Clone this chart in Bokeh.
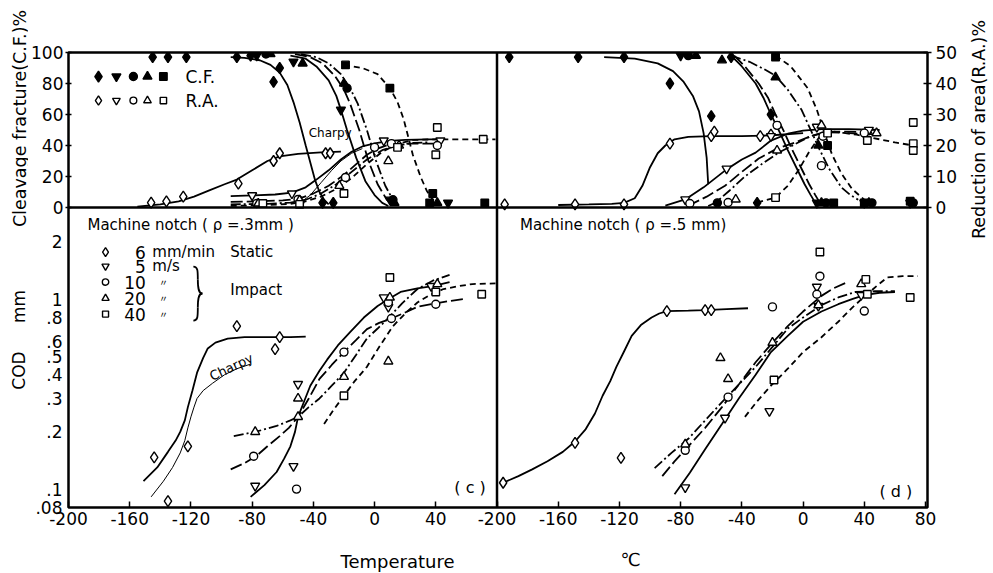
import math
from bokeh.plotting import figure
from bokeh.layouts import row, column
from bokeh.models import (Range1d, LinearAxis, LogAxis, FixedTicker, Label, Span,
                          CustomJSTickFormatter, LogScale, LinearScale)
from bokeh.embed import file_html
from bokeh.resources import INLINE

FONT = "DejaVu Sans"
TICK_FS = "17px"

# ------------------------------------------------------------------ DATA
# Temperature (deg C) / value pairs.
# ---- top-left (machine notch rho=.3mm): cleavage fracture C.F. %  (filled)
tl_cf_static_t = [-145, -135, -123, -90, -81, -62, -66, -34, -27]
tl_cf_static_v = [97, 97, 97, 97, 98, 90, 81, 3, 3]
tl_cf_5_t = [-77, -53, -22, 10, 48]
tl_cf_5_v = [98, 94, 63, 5, 3]
tl_cf_10_t = [-71, -18, 12]
tl_cf_10_v = [99, 77, 5]
tl_cf_20_t = [-68, -47, -20, 13, 41]
tl_cf_20_v = [99, 93, 80, 3, 3]
tl_cf_40_t = [-19, 10, 38, 72, 36]
tl_cf_40_v = [92, 77, 9, 3, 3]
# reduction of area R.A. % (open)
tl_ra_static_t = [-146, -136, -125, -89, -66, -62, -32, -29]
tl_ra_static_v = [1.6, 2, 3.5, 7.7, 15, 17.5, 17.5, 17.5]
tl_ra_5_t = [-80, -54, 6, 43]
tl_ra_5_v = [3.9, 4.5, 21.6, 21.6]
tl_ra_10_t = [-77, -50, -19, 0, 11, 41]
tl_ra_10_v = [1.3, 2.6, 9.7, 19.4, 20.6, 20]
tl_ra_20_t = [-76, -49, -23, 9, 16]
tl_ra_20_v = [1.3, 2.3, 7, 15, 20]
tl_ra_40_t = [-73, -49, -20, 15, 41, 40, 71]
tl_ra_40_v = [1.3, 1, 4.5, 19.4, 25.8, 17, 22]
# fitted curves
tlc_cf_static_t = [-94, -85, -75, -68, -62, -57, -53, -49, -45, -42, -39, -36, -33, -30]
tlc_cf_static_v = [97, 96.5, 95, 92, 87, 79, 68, 55, 40, 29, 18, 10, 5, 2]
tlc_cf_5_t = [-55, -45, -38, -30, -25, -22, -18, -12, -6, 0, 5, 9]
tlc_cf_5_v = [98, 96, 91, 82, 72, 63, 50, 32, 17, 8, 3, 1]
tlc_cf_10_t = [-52, -42, -34, -26, -20, -16, -10, -4, 2, 8, 12]
tlc_cf_10_v = [99, 97, 93, 85, 76, 67, 50, 30, 15, 5, 2]
tlc_cf_20_t = [-48, -38, -30, -22, -16, -11, -5, 1, 7, 12, 15]
tlc_cf_20_v = [99, 97, 93, 86, 77, 67, 50, 30, 14, 5, 2]
tlc_cf_40_t = [-20, -8, 2, 10, 15, 19, 25, 30, 34, 38]
tlc_cf_40_v = [92, 90, 86, 77, 68, 57, 34, 20, 11, 5]
tlc_ra_static_t = [-155, -140, -128, -118, -108, -98, -90, -80, -70, -62, -50, -35, -22]
tlc_ra_static_v = [0.3, 1, 2, 3.5, 5.5, 7.5, 9, 12, 15, 16.5, 17.3, 17.8, 18]
tlc_ra_charpy_t = [-50, -42, -35, -28, -22, -15, -8]
tlc_ra_charpy_v = [1, 4, 8, 12, 15, 17.5, 19]
tlc_ra_5_t = [-94, -80, -65, -54, -45, -38, -30, -22, -15, -8, 0, 10, 20, 35, 45]
tlc_ra_5_v = [3.7, 3.9, 4.2, 4.8, 6.5, 9, 12, 15.5, 18, 19.7, 20.7, 21.5, 21.8, 22, 22]
tlc_ra_10_t = [-94, -75, -60, -50, -40, -30, -20, -12, -5, 2, 10, 20, 40]
tlc_ra_10_v = [1.8, 2, 2.3, 2.8, 4.5, 7, 10.5, 14, 17, 19, 20.4, 20.6, 20.6]
tlc_ra_20_t = [-94, -70, -55, -45, -35, -25, -15, -5, 5, 15, 25, 35]
tlc_ra_20_v = [1, 1.2, 1.6, 2.5, 4.5, 7.5, 11.5, 15.5, 18.5, 20, 20.8, 21]
tlc_ra_40_t = [-94, -70, -55, -45, -35, -25, -15, -5, 5, 15, 25, 40, 60, 79]
tlc_ra_40_v = [0.5, 0.8, 1.2, 2, 3.5, 6, 9.5, 14, 18, 20.5, 21.8, 22, 22, 22]

# ---- top-right (machine notch rho=.5mm)
tr_cf_static_t = [-192, -147, -117, -87, -60, -47, -21, -30]
tr_cf_static_v = [97, 97, 97, 80, 59, 97, 60, 3]
tr_cf_5_t = [-80, 9, 40, 70]
tr_cf_5_v = [98, 3, 3, 3]
tr_cf_10_t = [-75, -56, 15, 45, 72]
tr_cf_10_v = [98, 3, 3, 3, 3]
tr_cf_20_t = [-70, -53, -18, 10, 12, 43]
tr_cf_20_v = [98, 95, 84, 40, 3, 3]
tr_cf_40_t = [-18, 16, 20, 40, 70]
tr_cf_40_v = [97, 40, 3, 3, 4]
tr_ra_static_t = [-195, -149, -117, -87, -60, -58, -28, -21]
tr_ra_static_v = [1, 1, 1, 20.6, 23, 24.5, 23, 23.5]
tr_ra_5_t = [-77, -50, -21, 9, 43]
tr_ra_5_v = [2.6, 12.5, 23, 26, 25]
tr_ra_10_t = [-74, -49, -17, 12, 13, 40]
tr_ra_10_v = [1.3, 1.6, 26.5, 13.5, 23, 24]
tr_ra_20_t = [-44, -17, 12, 48]
tr_ra_20_v = [2.6, 18.4, 26.5, 24]
tr_ra_40_t = [-18, 16, 42, 72, 72, 72]
tr_ra_40_v = [3.2, 24, 21.6, 27.4, 20.6, 18.4]
trc_cf_static_t = [-130, -110, -95, -85, -78, -72, -68, -65, -63, -62]
trc_cf_static_v = [97, 96, 93, 88, 81, 72, 62, 48, 32, 15]
trc_cf_5_t = [-47, -40, -31, -26, -21, -15, -10, -4, 1, 5, 8]
trc_cf_5_v = [98, 91, 80, 71, 60, 48, 37, 25, 15, 8, 3]
trc_cf_10_t = [-45, -38, -29, -23, -18, -12, -7, -1, 4, 8, 11]
trc_cf_10_v = [98, 91, 80, 71, 60, 48, 37, 25, 15, 8, 3]
trc_cf_20_t = [-47, -35, -25, -18, -10, -1, 5, 10, 17, 25, 31, 36]
trc_cf_20_v = [98, 94, 89, 85, 76, 63, 50, 39, 25, 13, 8, 5]
trc_cf_40_t = [-18, -8, 3, 9, 14, 19, 25, 32, 40]
trc_cf_40_v = [98, 91, 77, 63, 48, 34, 22, 12, 5]
trc_ra_static_t = [-160, -140, -125, -117, -110, -105, -100, -95, -90, -84, -75, -60, -40, -20, 0]
trc_ra_static_v = [0.8, 1, 1.2, 1.5, 3, 7, 13, 17.5, 20, 22, 22.8, 23, 23, 23.3, 24]
trc_ra_5_t = [-90, -77, -65, -50, -40, -31, -21, -10, 0, 12, 30, 50]
trc_ra_5_v = [0.6, 2.6, 6.5, 12.3, 15.5, 17.7, 21.6, 23.8, 24.8, 25.3, 25.3, 25]
trc_ra_10_t = [-75, -63, -51, -40, -29, -17, -5, 5, 15, 30, 50]
trc_ra_10_v = [0.6, 3.5, 7, 11.5, 15.8, 19, 21, 23, 24.5, 24.5, 24]
trc_ra_20_t = [-62, -57, -48, -38, -27, -16, -5, 5, 15, 30, 50]
trc_ra_20_v = [0.5, 1.6, 5.5, 10, 14, 17.7, 20.5, 23, 24.3, 24, 23.5]
trc_ra_40_t = [-30, -18, -10, -3, 4, 11, 20, 35, 50, 60, 72]
trc_ra_40_v = [1.6, 3.2, 7, 12, 18, 23, 24.5, 23.5, 22, 21, 20]

# ---- bottom-left: COD (mm), rho=.3mm
bl_static_t = [-144, -135, -122, -90, -65, -62]
bl_static_v = [0.147, 0.0865, 0.168, 0.72, 0.546, 0.63]
bl_5_t = [-78, -53, -50, 6, 9, 37]
bl_5_v = [0.104, 0.132, 0.357, 1.02, 0.91, 1.17]
bl_10_t = [-79, -51, -20, 9, 11, 40]
bl_10_v = [0.149, 0.10, 0.526, 0.96, 0.79, 0.94]
bl_20_t = [-78, -50, -50, -20, 9, 10, 41]
bl_20_v = [0.2, 0.30, 0.24, 0.39, 0.47, 1.02, 1.2]
bl_40_t = [-20, 10, 40, 70]
bl_40_v = [0.31, 1.3, 1.09, 1.06]
blc_static_t = [-151, -142, -135, -130, -127, -124, -122, -119, -116, -112, -109, -104, -96, -85, -70, -55, -45]
blc_static_v = [0.11, 0.13, 0.157, 0.18, 0.2, 0.23, 0.27, 0.33, 0.41, 0.49, 0.55, 0.59, 0.62, 0.63, 0.63, 0.63, 0.635]
blc_charpy_t = [-146, -138, -132, -127, -124, -122, -120, -118, -116, -112, -106, -98, -90, -81]
blc_charpy_v = [0.091, 0.11, 0.13, 0.155, 0.18, 0.21, 0.24, 0.27, 0.3, 0.33, 0.36, 0.40, 0.43, 0.455]
blc_5_t = [-81, -72, -64, -59, -55, -52, -50, -46, -42, -36, -31, -24, -16, -7, 2, 10, 17, 28, 38, 49]
blc_5_v = [0.091, 0.105, 0.123, 0.145, 0.168, 0.2, 0.24, 0.29, 0.35, 0.42, 0.48, 0.57, 0.67, 0.8, 0.92, 1.01, 1.09, 1.14, 1.17, 1.23]
blc_10_t = [-94, -85, -77, -70, -62, -56, -50, -43, -36, -28, -20, -12, -5, 3, 11, 20, 28, 40, 50, 58]
blc_10_v = [0.127, 0.137, 0.15, 0.168, 0.19, 0.21, 0.24, 0.3, 0.38, 0.45, 0.526, 0.61, 0.695, 0.75, 0.79, 0.85, 0.91, 0.95, 0.98, 1.0]
blc_20_t = [-92, -78, -64, -55, -50, -43, -36, -28, -20, -12, -5, 2, 8, 18, 28, 38, 49]
blc_20_v = [0.19, 0.2, 0.215, 0.23, 0.24, 0.27, 0.3, 0.35, 0.41, 0.51, 0.62, 0.7, 0.78, 0.95, 1.13, 1.25, 1.34]
blc_40_t = [-33, -27, -20, -13, -5, 3, 12, 20, 28, 36, 45, 55, 64, 79]
blc_40_v = [0.22, 0.26, 0.31, 0.37, 0.44, 0.56, 0.72, 0.84, 0.96, 1.05, 1.13, 1.17, 1.2, 1.21]

# ---- bottom-right: COD (mm), rho=.5mm
br_static_t = [-196, -149, -119, -89, -64, -60]
br_static_v = [0.108, 0.175, 0.146, 0.865, 0.875, 0.875]
br_5_t = [-77, -51, -22, 9, 10, 38]
br_5_v = [0.102, 0.237, 0.257, 1.16, 0.92, 1.05]
br_10_t = [-77, -49, -20, 9, 11, 40]
br_10_v = [0.16, 0.305, 0.91, 1.06, 1.32, 0.865]
br_20_t = [-77, -54, -49, -20, 10, 38]
br_20_v = [0.172, 0.49, 0.38, 0.59, 0.93, 1.2]
br_40_t = [-19, 11, 41, 42, 70]
br_40_v = [0.375, 1.77, 1.27, 1.06, 1.02]
brc_static_t = [-196, -186, -177, -167, -157, -149, -142, -136, -131, -126, -122, -117, -112, -106, -99, -94, -89, -75, -64, -50, -36]
brc_static_v = [0.108, 0.117, 0.127, 0.14, 0.157, 0.178, 0.207, 0.25, 0.31, 0.37, 0.44, 0.53, 0.64, 0.73, 0.80, 0.84, 0.865, 0.87, 0.875, 0.885, 0.895]
brc_5_t = [-84, -74, -64, -53, -42, -31, -21, -10, 0, 12, 23, 32, 40, 50, 60]
brc_5_v = [0.094, 0.122, 0.162, 0.22, 0.30, 0.40, 0.526, 0.64, 0.76, 0.86, 0.94, 1.0, 1.05, 1.08, 1.09]
brc_10_t = [-92, -84, -75, -64, -53, -42, -31, -20, -10, 0, 12, 20, 29]
brc_10_v = [0.117, 0.14, 0.168, 0.21, 0.27, 0.355, 0.465, 0.59, 0.72, 0.86, 1.04, 1.14, 1.23]
brc_20_t = [-97, -86, -75, -64, -53, -42, -31, -20, -10, 0, 12, 23, 34, 47, 60]
brc_20_v = [0.129, 0.155, 0.184, 0.23, 0.287, 0.355, 0.44, 0.56, 0.70, 0.80, 0.93, 1.02, 1.09, 1.1, 1.1]
brc_40_t = [-38, -30, -21, -10, 0, 12, 23, 32, 40, 48, 55, 65, 75]
brc_40_v = [0.24, 0.29, 0.35, 0.43, 0.526, 0.63, 0.76, 0.9, 1.03, 1.17, 1.3, 1.32, 1.32]

# axis ticks (the right-hand panels use the same temperature scale offset by 280 deg)
PANEL_SHIFT = 280
x_ticks = [-200, -160, -120, -80, -40, 0, 40, 80, 120, 160, 200, 240, 280, 320, 360]
cf_ticks = [0, 20, 40, 60, 80, 100]
ra_ticks = [0, 10, 20, 30, 40, 50]
cod_ticks = [0.08, 0.1, 0.2, 0.3, 0.4, 0.5, 0.6, 0.8, 1, 2]

# ------------------------------------------------------------------ STYLE
MARK = {"static": "diamond", "5": "inverted_triangle", "10": "circle",
        "20": "triangle", "40": "square"}
SIZE = {"static": 11, "5": 9, "10": 8, "20": 9, "40": 7.5}
DASH = {"static": "solid", "5": "solid", "10": "12 4", "20": "10 3 2 3", "40": "6 4"}
KINDS = ["static", "5", "10", "20", "40"]


def style_axis(ax, tin, tout, standoff=4):
    ax.axis_line_color = None
    ax.major_tick_in = tin
    ax.major_tick_out = tout
    ax.major_tick_line_width = 1.5
    ax.major_tick_line_color = "black"
    ax.minor_tick_line_color = None
    ax.major_label_text_font = FONT
    ax.major_label_text_font_size = TICK_FS
    ax.major_label_text_color = "black"
    ax.major_label_standoff = standoff


def pts(p, t, v, kind, filled, xr="default", yr="default", scale=1.0):
    p.scatter(t, v, marker=MARK[kind], size=SIZE[kind] * scale,
              fill_color="black" if filled else "white",
              line_color="black", line_width=1.4, x_range_name=xr, y_range_name=yr)


def curve(p, t, v, kind, xr="default", yr="default", width=1.8):
    p.line(t, v, line_color="black", line_width=width, line_dash=DASH[kind],
           x_range_name=xr, y_range_name=yr)


def lab(p, x, y, text, size="16px", align="left", angle=0.0, xr="default",
        yr="default", font=FONT):
    p.add_layout(Label(x=x, y=y, text=text, text_font=font, text_font_size=size,
                       text_align=align, text_baseline="middle", angle=angle,
                       text_color="black", x_range_name=xr, y_range_name=yr))


def blank(w, h):
    f = figure(width=w, height=h, output_backend="svg", toolbar_location=None,
               x_range=Range1d(0, w), y_range=Range1d(0, h),
               min_border=0, x_axis_location=None, y_axis_location=None)
    f.grid.visible = False
    f.outline_line_color = None
    f.background_fill_color = "white"
    f.border_fill_color = "white"
    return f


# ------------------------------------------------------------------ MAIN FIGURE
# frame: x 68..928, y 52..507.  Upper band = C.F./R.A. (linear), lower band = COD (log)
main = figure(width=932, height=543, output_backend="svg", toolbar_location=None,
              x_range=Range1d(-200, 361.3), y_range=Range1d(-193.55, 100),
              min_border_left=40, min_border_right=32, min_border_top=52,
              min_border_bottom=36, x_axis_location=None, y_axis_location=None)
main.extra_x_ranges = {"r": Range1d(-200 - PANEL_SHIFT, 361.3 - PANEL_SHIFT)}
main.extra_x_scales = {"r": LinearScale()}
main.extra_y_ranges = {"ra": Range1d(-96.77, 50), "cod": Range1d(0.08, 19.86)}
main.extra_y_scales = {"ra": LinearScale(), "cod": LogScale()}
main.grid.visible = False
main.outline_line_color = "black"
main.outline_line_width = 2.5
main.background_fill_color = "white"
main.border_fill_color = "white"

# axes
ax = LinearAxis(ticker=FixedTicker(ticks=cf_ticks, minor_ticks=[]))
style_axis(ax, 3, 3, standoff=2)
main.add_layout(ax, "left")
ax = LogAxis(y_range_name="cod", ticker=FixedTicker(ticks=cod_ticks, minor_ticks=[]),
             formatter=CustomJSTickFormatter(
                 code="return tick < 1 ? String(tick).replace(/^0/, '') : String(tick);"))
style_axis(ax, 0, 0, standoff=-34)
main.add_layout(ax, "left")
ax = LinearAxis(y_range_name="ra", ticker=FixedTicker(ticks=ra_ticks, minor_ticks=[]))
style_axis(ax, 4, 4)
main.add_layout(ax, "right")
ax = LinearAxis(ticker=FixedTicker(ticks=x_ticks, minor_ticks=[]),
                formatter=CustomJSTickFormatter(
                    args=dict(shift=PANEL_SHIFT),
                    code="if (tick == 80) return '-200';"
                         " return String(tick > 80 ? tick - shift : tick);"))
style_axis(ax, 6, 0)
main.add_layout(ax, "below")

# panel dividers
main.add_layout(Span(location=80, dimension="height", line_color="black", line_width=2.5))
main.add_layout(Span(location=0, dimension="width", line_color="black", line_width=2.5))

# ---- top-left
for kind, t, v in zip(KINDS, [tlc_cf_static_t, tlc_cf_5_t, tlc_cf_10_t, tlc_cf_20_t, tlc_cf_40_t],
                      [tlc_cf_static_v, tlc_cf_5_v, tlc_cf_10_v, tlc_cf_20_v, tlc_cf_40_v]):
    curve(main, t, v, kind)
for kind, t, v in zip(KINDS, [tlc_ra_static_t, tlc_ra_5_t, tlc_ra_10_t, tlc_ra_20_t, tlc_ra_40_t],
                      [tlc_ra_static_v, tlc_ra_5_v, tlc_ra_10_v, tlc_ra_20_v, tlc_ra_40_v]):
    curve(main, t, v, kind, yr="ra")
curve(main, tlc_ra_charpy_t, tlc_ra_charpy_v, "static", yr="ra", width=1.0)
for kind, t, v in zip(KINDS, [tl_cf_static_t, tl_cf_5_t, tl_cf_10_t, tl_cf_20_t, tl_cf_40_t],
                      [tl_cf_static_v, tl_cf_5_v, tl_cf_10_v, tl_cf_20_v, tl_cf_40_v]):
    pts(main, t, v, kind, True)
for kind, t, v in zip(KINDS, [tl_ra_static_t, tl_ra_5_t, tl_ra_10_t, tl_ra_20_t, tl_ra_40_t],
                      [tl_ra_static_v, tl_ra_5_v, tl_ra_10_v, tl_ra_20_v, tl_ra_40_v]):
    pts(main, t, v, kind, False, yr="ra")
for kind, tx in zip(KINDS, [-180.4, -168.7, -157.6, -148.4, -138.0]):
    pts(main, [tx], [84.5], kind, True)
    pts(main, [tx], [69], kind, False, scale=0.85)
lab(main, -123.6, 84.5, "C.F.", "17px")
lab(main, -123.6, 69, "R.A.", "17px")
lab(main, -29, 48, "Charpy", "12px", align="center")

# ---- top-right
for kind, t, v in zip(KINDS, [trc_cf_static_t, trc_cf_5_t, trc_cf_10_t, trc_cf_20_t, trc_cf_40_t],
                      [trc_cf_static_v, trc_cf_5_v, trc_cf_10_v, trc_cf_20_v, trc_cf_40_v]):
    curve(main, t, v, kind, xr="r")
for kind, t, v in zip(KINDS, [trc_ra_static_t, trc_ra_5_t, trc_ra_10_t, trc_ra_20_t, trc_ra_40_t],
                      [trc_ra_static_v, trc_ra_5_v, trc_ra_10_v, trc_ra_20_v, trc_ra_40_v]):
    curve(main, t, v, kind, xr="r", yr="ra")
for kind, t, v in zip(KINDS, [tr_cf_static_t, tr_cf_5_t, tr_cf_10_t, tr_cf_20_t, tr_cf_40_t],
                      [tr_cf_static_v, tr_cf_5_v, tr_cf_10_v, tr_cf_20_v, tr_cf_40_v]):
    pts(main, t, v, kind, True, xr="r")
for kind, t, v in zip(KINDS, [tr_ra_static_t, tr_ra_5_t, tr_ra_10_t, tr_ra_20_t, tr_ra_40_t],
                      [tr_ra_static_v, tr_ra_5_v, tr_ra_10_v, tr_ra_20_v, tr_ra_40_v]):
    pts(main, t, v, kind, False, xr="r", yr="ra")

# ---- bottom-left
for kind, t, v in zip(KINDS, [blc_static_t, blc_5_t, blc_10_t, blc_20_t, blc_40_t],
                      [blc_static_v, blc_5_v, blc_10_v, blc_20_v, blc_40_v]):
    curve(main, t, v, kind, yr="cod")
curve(main, blc_charpy_t, blc_charpy_v, "static", yr="cod", width=1.0)
for kind, t, v in zip(KINDS, [bl_static_t, bl_5_t, bl_10_t, bl_20_t, bl_40_t],
                      [bl_static_v, bl_5_v, bl_10_v, bl_20_v, bl_40_v]):
    pts(main, t, v, kind, False, yr="cod")
key_y = [1.767, 1.49, 1.229, 1.01, 0.834]
for kind, yy in zip(KINDS, key_y):
    pts(main, [-175.8], [yy], kind, False, yr="cod", scale=0.8)
lab(main, -187.6, 2.45, "Machine notch ( \u03c1 =.3mm )", "15px", yr="cod")
lab(main, -149.5, 1.767, "6", "17px", align="right", yr="cod")
lab(main, -145.2, 1.767, "mm/min", "15px", yr="cod")
lab(main, -94.3, 1.767, "Static", "15px", yr="cod")
lab(main, -149.5, 1.49, "5", "17px", align="right", yr="cod")
lab(main, -145.2, 1.49, "m/s", "15px", yr="cod")
for yy, num in zip(key_y[2:], ["10", "20", "40"]):
    lab(main, -149.5, yy, num, "17px", align="right", yr="cod")
    lab(main, -138, yy, "\u3003", "9px", align="center", yr="cod", font="Noto Sans CJK JP")
# thin brace grouping the impact speeds (drawn as a bracket)
main.bezier(x0=[-118.4, -115.5, -112.5, -115.5], y0=[1.484, 1.268, 1.070, 0.903],
            x1=[-115.5, -112.5, -115.5, -118.4], y1=[1.268, 1.070, 0.903, 0.771],
            cx0=[-115.5, -115.5, -114.5, -115.5], cy0=[1.484, 1.110, 1.070, 0.810],
            cx1=[-115.5, -114.5, -115.5, -115.5], cy1=[1.414, 1.070, 1.032, 0.771],
            line_color="black", line_width=1.8, y_range_name="cod")
lab(main, -94.3, 1.115, "Impact", "15px", yr="cod")
lab(main, -93.6, 0.439, "Charpy", "13px", align="center", angle=0.44, yr="cod")
lab(main, 62.4, 0.1024, "( c )", "16px", align="center", yr="cod")

# ---- bottom-right
for kind, t, v in zip(KINDS, [brc_static_t, brc_5_t, brc_10_t, brc_20_t, brc_40_t],
                      [brc_static_v, brc_5_v, brc_10_v, brc_20_v, brc_40_v]):
    curve(main, t, v, kind, xr="r", yr="cod")
for kind, t, v in zip(KINDS, [br_static_t, br_5_t, br_10_t, br_20_t, br_40_t],
                      [br_static_v, br_5_v, br_10_v, br_20_v, br_40_v]):
    pts(main, t, v, kind, False, xr="r", yr="cod")
lab(main, -185, 2.45, "Machine notch ( \u03c1 =.5 mm)", "15px", xr="r", yr="cod")
lab(main, 60.6, 0.0977, "( d )", "16px", align="center", xr="r", yr="cod")

# ------------------------------------------------------------------ MARGINS (titles)
left_m = blank(28, 573)
lab(left_m, 19, 573 - 118, "Cleavage fracture(C.F.)%", "17.5px", align="center", angle=math.pi / 2)
lab(left_m, 18, 573 - 370, "COD", "17px", align="center", angle=math.pi / 2)
lab(left_m, 18, 573 - 306, "mm", "17px", align="center", angle=math.pi / 2)

right_m = blank(33, 573)
lab(right_m, 18, 573 - 129, "Reduction of area(R.A.)%", "17.5px", align="center", angle=math.pi / 2)

bottom_m = blank(932, 30)
lab(bottom_m, 357, 12, "Temperature", "18px", align="center")
lab(bottom_m, 610, 14, "\u2103", "18px", align="center")

layout = row(left_m, column(main, bottom_m), right_m)
open("out.html", "w").write(file_html(layout, INLINE))
